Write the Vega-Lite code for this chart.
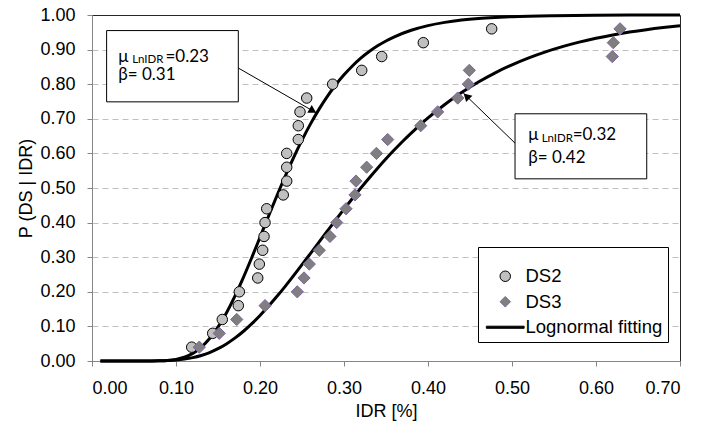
{
  "$schema": "https://vega.github.io/schema/vega-lite/v6.json",
  "width": 588,
  "height": 346,
  "autosize": {"type": "none"},
  "padding": {"left": 92, "top": 15, "right": 21, "bottom": 65},
  "background": "white",
  "config": {
    "view": {"stroke": "#262626", "strokeWidth": 1},
    "axis": {
      "labelFont": "Liberation Sans",
      "labelFontSize": 18,
      "labelColor": "#000000",
      "titleFont": "Liberation Sans",
      "titleFontSize": 18,
      "titleFontWeight": "normal",
      "titleColor": "#000000",
      "domainColor": "#868686",
      "tickColor": "#868686",
      "tickSize": 5
    }
  },
  "datasets": {
    "points": [
      {"series": "DS2", "x": 0.1187, "y": 0.04},
      {"series": "DS2", "x": 0.1437, "y": 0.08},
      {"series": "DS2", "x": 0.1551, "y": 0.12},
      {"series": "DS2", "x": 0.1742, "y": 0.16},
      {"series": "DS2", "x": 0.1754, "y": 0.20},
      {"series": "DS2", "x": 0.1973, "y": 0.24},
      {"series": "DS2", "x": 0.1992, "y": 0.28},
      {"series": "DS2", "x": 0.2032, "y": 0.32},
      {"series": "DS2", "x": 0.2048, "y": 0.36},
      {"series": "DS2", "x": 0.2060, "y": 0.40},
      {"series": "DS2", "x": 0.2080, "y": 0.44},
      {"series": "DS2", "x": 0.2277, "y": 0.48},
      {"series": "DS2", "x": 0.2318, "y": 0.52},
      {"series": "DS2", "x": 0.2318, "y": 0.56},
      {"series": "DS2", "x": 0.2318, "y": 0.60},
      {"series": "DS2", "x": 0.2456, "y": 0.64},
      {"series": "DS2", "x": 0.2456, "y": 0.68},
      {"series": "DS2", "x": 0.2476, "y": 0.72},
      {"series": "DS2", "x": 0.2556, "y": 0.76},
      {"series": "DS2", "x": 0.2865, "y": 0.80},
      {"series": "DS2", "x": 0.3211, "y": 0.84},
      {"series": "DS2", "x": 0.3449, "y": 0.88},
      {"series": "DS2", "x": 0.3944, "y": 0.92},
      {"series": "DS2", "x": 0.4758, "y": 0.96},
      {"series": "DS3", "x": 0.1277, "y": 0.04},
      {"series": "DS3", "x": 0.1515, "y": 0.08},
      {"series": "DS3", "x": 0.1723, "y": 0.12},
      {"series": "DS3", "x": 0.2060, "y": 0.16},
      {"series": "DS3", "x": 0.2444, "y": 0.20},
      {"series": "DS3", "x": 0.2524, "y": 0.24},
      {"series": "DS3", "x": 0.2587, "y": 0.28},
      {"series": "DS3", "x": 0.2706, "y": 0.32},
      {"series": "DS3", "x": 0.2833, "y": 0.36},
      {"series": "DS3", "x": 0.2913, "y": 0.40},
      {"series": "DS3", "x": 0.3024, "y": 0.44},
      {"series": "DS3", "x": 0.3131, "y": 0.48},
      {"series": "DS3", "x": 0.3143, "y": 0.52},
      {"series": "DS3", "x": 0.3270, "y": 0.56},
      {"series": "DS3", "x": 0.3386, "y": 0.60},
      {"series": "DS3", "x": 0.3520, "y": 0.64},
      {"series": "DS3", "x": 0.3913, "y": 0.68},
      {"series": "DS3", "x": 0.4115, "y": 0.72},
      {"series": "DS3", "x": 0.4354, "y": 0.76},
      {"series": "DS3", "x": 0.4480, "y": 0.80},
      {"series": "DS3", "x": 0.4492, "y": 0.84},
      {"series": "DS3", "x": 0.6194, "y": 0.88},
      {"series": "DS3", "x": 0.6206, "y": 0.92},
      {"series": "DS3", "x": 0.6286, "y": 0.96}
    ],
    "curves": [
      {"curve": "DS2", "x": 0.01, "y": 0},
      {"curve": "DS2", "x": 0.07, "y": 0},
      {"curve": "DS2", "x": 0.08, "y": 0.0004},
      {"curve": "DS2", "x": 0.09, "y": 0.0016},
      {"curve": "DS2", "x": 0.10, "y": 0.0046},
      {"curve": "DS2", "x": 0.11, "y": 0.0109},
      {"curve": "DS2", "x": 0.12, "y": 0.022},
      {"curve": "DS2", "x": 0.13, "y": 0.0396},
      {"curve": "DS2", "x": 0.14, "y": 0.0648},
      {"curve": "DS2", "x": 0.15, "y": 0.0979},
      {"curve": "DS2", "x": 0.16, "y": 0.1389},
      {"curve": "DS2", "x": 0.17, "y": 0.1867},
      {"curve": "DS2", "x": 0.18, "y": 0.2402},
      {"curve": "DS2", "x": 0.19, "y": 0.2977},
      {"curve": "DS2", "x": 0.20, "y": 0.3574},
      {"curve": "DS2", "x": 0.21, "y": 0.4176},
      {"curve": "DS2", "x": 0.22, "y": 0.4769},
      {"curve": "DS2", "x": 0.23, "y": 0.5339},
      {"curve": "DS2", "x": 0.24, "y": 0.5881},
      {"curve": "DS2", "x": 0.25, "y": 0.6384},
      {"curve": "DS2", "x": 0.26, "y": 0.6846},
      {"curve": "DS2", "x": 0.27, "y": 0.7266},
      {"curve": "DS2", "x": 0.28, "y": 0.7642},
      {"curve": "DS2", "x": 0.29, "y": 0.7976},
      {"curve": "DS2", "x": 0.30, "y": 0.827},
      {"curve": "DS2", "x": 0.31, "y": 0.8527},
      {"curve": "DS2", "x": 0.32, "y": 0.8751},
      {"curve": "DS2", "x": 0.33, "y": 0.8943},
      {"curve": "DS2", "x": 0.34, "y": 0.9109},
      {"curve": "DS2", "x": 0.35, "y": 0.925},
      {"curve": "DS2", "x": 0.36, "y": 0.937},
      {"curve": "DS2", "x": 0.38, "y": 0.9559},
      {"curve": "DS2", "x": 0.40, "y": 0.9693},
      {"curve": "DS2", "x": 0.42, "y": 0.9787},
      {"curve": "DS2", "x": 0.44, "y": 0.9853},
      {"curve": "DS2", "x": 0.46, "y": 0.9899},
      {"curve": "DS2", "x": 0.48, "y": 0.993},
      {"curve": "DS2", "x": 0.50, "y": 0.9952},
      {"curve": "DS2", "x": 0.55, "y": 0.9981},
      {"curve": "DS2", "x": 0.60, "y": 0.9993},
      {"curve": "DS2", "x": 0.65, "y": 0.9997},
      {"curve": "DS2", "x": 0.70, "y": 0.9999},
      {"curve": "DS3", "x": 0.01, "y": 0},
      {"curve": "DS3", "x": 0.06, "y": 0},
      {"curve": "DS3", "x": 0.07, "y": 0.0002},
      {"curve": "DS3", "x": 0.08, "y": 0.0005},
      {"curve": "DS3", "x": 0.09, "y": 0.0013},
      {"curve": "DS3", "x": 0.10, "y": 0.0028},
      {"curve": "DS3", "x": 0.11, "y": 0.0055},
      {"curve": "DS3", "x": 0.12, "y": 0.0098},
      {"curve": "DS3", "x": 0.13, "y": 0.016},
      {"curve": "DS3", "x": 0.14, "y": 0.0245},
      {"curve": "DS3", "x": 0.15, "y": 0.0356},
      {"curve": "DS3", "x": 0.16, "y": 0.0494},
      {"curve": "DS3", "x": 0.17, "y": 0.066},
      {"curve": "DS3", "x": 0.18, "y": 0.0853},
      {"curve": "DS3", "x": 0.19, "y": 0.1073},
      {"curve": "DS3", "x": 0.20, "y": 0.1316},
      {"curve": "DS3", "x": 0.21, "y": 0.158},
      {"curve": "DS3", "x": 0.22, "y": 0.1862},
      {"curve": "DS3", "x": 0.23, "y": 0.2158},
      {"curve": "DS3", "x": 0.24, "y": 0.2467},
      {"curve": "DS3", "x": 0.25, "y": 0.2783},
      {"curve": "DS3", "x": 0.26, "y": 0.3105},
      {"curve": "DS3", "x": 0.27, "y": 0.3429},
      {"curve": "DS3", "x": 0.28, "y": 0.3752},
      {"curve": "DS3", "x": 0.29, "y": 0.4073},
      {"curve": "DS3", "x": 0.30, "y": 0.4389},
      {"curve": "DS3", "x": 0.31, "y": 0.4698},
      {"curve": "DS3", "x": 0.32, "y": 0.5},
      {"curve": "DS3", "x": 0.33, "y": 0.5291},
      {"curve": "DS3", "x": 0.34, "y": 0.5574},
      {"curve": "DS3", "x": 0.35, "y": 0.5845},
      {"curve": "DS3", "x": 0.36, "y": 0.6103},
      {"curve": "DS3", "x": 0.37, "y": 0.6351},
      {"curve": "DS3", "x": 0.38, "y": 0.6587},
      {"curve": "DS3", "x": 0.39, "y": 0.6812},
      {"curve": "DS3", "x": 0.40, "y": 0.7024},
      {"curve": "DS3", "x": 0.42, "y": 0.7413},
      {"curve": "DS3", "x": 0.44, "y": 0.7758},
      {"curve": "DS3", "x": 0.46, "y": 0.8062},
      {"curve": "DS3", "x": 0.48, "y": 0.8328},
      {"curve": "DS3", "x": 0.50, "y": 0.856},
      {"curve": "DS3", "x": 0.52, "y": 0.8762},
      {"curve": "DS3", "x": 0.54, "y": 0.8936},
      {"curve": "DS3", "x": 0.56, "y": 0.9086},
      {"curve": "DS3", "x": 0.58, "y": 0.9216},
      {"curve": "DS3", "x": 0.60, "y": 0.9328},
      {"curve": "DS3", "x": 0.62, "y": 0.9424},
      {"curve": "DS3", "x": 0.64, "y": 0.9506},
      {"curve": "DS3", "x": 0.66, "y": 0.9576},
      {"curve": "DS3", "x": 0.68, "y": 0.9636},
      {"curve": "DS3", "x": 0.70, "y": 0.9688}
    ],
    "boxes": [
      {"box": "DS2", "x": 0.0174, "x2": 0.1742, "y": 0.955, "y2": 0.749},
      {"box": "DS3", "x": 0.5036, "x2": 0.6604, "y": 0.7145, "y2": 0.5265}
    ],
    "arrows": [
      {"arrow": "DS2", "x": 0.1742, "y": 0.8467, "x2": 0.2675, "y2": 0.7165},
      {"arrow": "DS3", "x": 0.5036, "y": 0.6297, "x2": 0.442, "y2": 0.7744}
    ],
    "heads": [
      {"arrow": "DS2", "x": 0.2629, "y": 0.7229},
      {"arrow": "DS3", "x": 0.4458, "y": 0.7654}
    ],
    "annoMain": [
      {"x": 0.0313, "y": 0.880, "label": "μ"},
      {"x": 0.0875, "y": 0.880, "label": "=0.23"},
      {"x": 0.0313, "y": 0.827, "label": "β= 0.31"},
      {"x": 0.5194, "y": 0.6537, "label": "μ"},
      {"x": 0.5722, "y": 0.6537, "label": "=0.32"},
      {"x": 0.5194, "y": 0.5864, "label": "β= 0.42"}
    ],
    "annoSub": [
      {"x": 0.0478, "y": 0.8707, "label": "LnIDR"},
      {"x": 0.5353, "y": 0.6413, "label": "LnIDR"}
    ]
  },
  "encoding": {
    "x": {
      "field": "x",
      "type": "quantitative",
      "scale": {"domain": [0, 0.7], "nice": false, "zero": false},
      "axis": {
        "title": "IDR [%]",
        "values": [0, 0.1, 0.2, 0.3, 0.4, 0.5, 0.6, 0.7],
        "format": ".2f",
        "grid": false,
        "labelPadding": 13,
        "titlePadding": 5
      }
    },
    "y": {
      "field": "y",
      "type": "quantitative",
      "scale": {"domain": [0, 1], "nice": false, "zero": false},
      "axis": {
        "title": "P (DS | IDR)",
        "values": [0, 0.1, 0.2, 0.3, 0.4, 0.5, 0.6, 0.7, 0.8, 0.9, 1],
        "format": ".2f",
        "grid": true,
        "gridDash": [6, 4],
        "gridColor": {"condition": {"test": "datum.value >= 1 || datum.value <= 0", "value": "transparent"}, "value": "#bfbfbf"},
        "labelPadding": 12,
        "titlePadding": 4
      }
    }
  },
  "layer": [
    {
      "data": {"name": "boxes"},
      "mark": {"type": "rect", "fill": "white", "stroke": "black", "strokeWidth": 1},
      "encoding": {"x2": {"field": "x2"}, "y2": {"field": "y2"}}
    },
    {
      "data": {"name": "curves"},
      "mark": {"type": "line", "color": "black", "strokeWidth": 3, "interpolate": "monotone"},
      "encoding": {"detail": {"field": "curve", "type": "nominal"}}
    },
    {
      "data": {"name": "points"},
      "mark": {"type": "point", "filled": true, "opacity": 1, "strokeWidth": 1},
      "encoding": {
        "size": {"condition": {"test": "datum.series === 'DS3'", "value": 150}, "value": 110},
        "shape": {
          "field": "series",
          "type": "nominal",
          "scale": {"domain": ["DS2", "DS3", "Lognormal fitting"], "range": ["circle", "diamond", "M-3.6,-0.2H3.6V0.2H-3.6Z"]},
          "legend": {
            "title": " ",
            "titleFontSize": 10,
            "titlePadding": 5,
            "orient": "none",
            "legendX": 386,
            "legendY": 232,
            "padding": 5,
            "strokeColor": "black",
            "fillColor": "white",
            "labelFont": "Liberation Sans",
            "labelFontSize": 18.5,
            "labelColor": "black",
            "labelOffset": 11,
            "symbolOffset": 13,
            "rowPadding": 6.5,
            "symbolSize": 110,
            "symbolStrokeWidth": 1,
            "encode": {
              "symbols": {
                "update": {
                  "size": {"signal": "datum.value === 'DS3' ? 150 : 110"}
                }
              }
            }
          }
        },
        "fill": {
          "field": "series",
          "type": "nominal",
          "scale": {"domain": ["DS2", "DS3", "Lognormal fitting"], "range": ["#c0c0c0", "#7f7f7f", "#000000"]},
          "legend": {"title": " "}
        },
        "stroke": {
          "field": "series",
          "type": "nominal",
          "scale": {"domain": ["DS2", "DS3", "Lognormal fitting"], "range": ["#000000", "#8064a2", "#000000"]},
          "legend": {"title": " "}
        }
      }
    },
    {
      "data": {"name": "arrows"},
      "mark": {"type": "rule", "color": "black", "strokeWidth": 1},
      "encoding": {"x2": {"field": "x2"}, "y2": {"field": "y2"}}
    },
    {
      "data": {"name": "heads"},
      "transform": [{"filter": "datum.arrow === 'DS2'"}],
      "mark": {"type": "point", "shape": "triangle-right", "filled": true, "color": "black", "size": 80, "angle": 30, "opacity": 1}
    },
    {
      "data": {"name": "heads"},
      "transform": [{"filter": "datum.arrow === 'DS3'"}],
      "mark": {"type": "point", "shape": "triangle-right", "filled": true, "color": "black", "size": 80, "angle": 224, "opacity": 1}
    },
    {
      "data": {"name": "annoMain"},
      "mark": {"type": "text", "font": "Lato", "fontSize": 17, "align": "left", "baseline": "middle", "color": "black"},
      "encoding": {"text": {"field": "label"}}
    },
    {
      "data": {"name": "annoSub"},
      "mark": {"type": "text", "font": "Lato", "fontSize": 11.5, "align": "left", "baseline": "middle", "color": "black"},
      "encoding": {"text": {"field": "label"}}
    }
  ]
}
